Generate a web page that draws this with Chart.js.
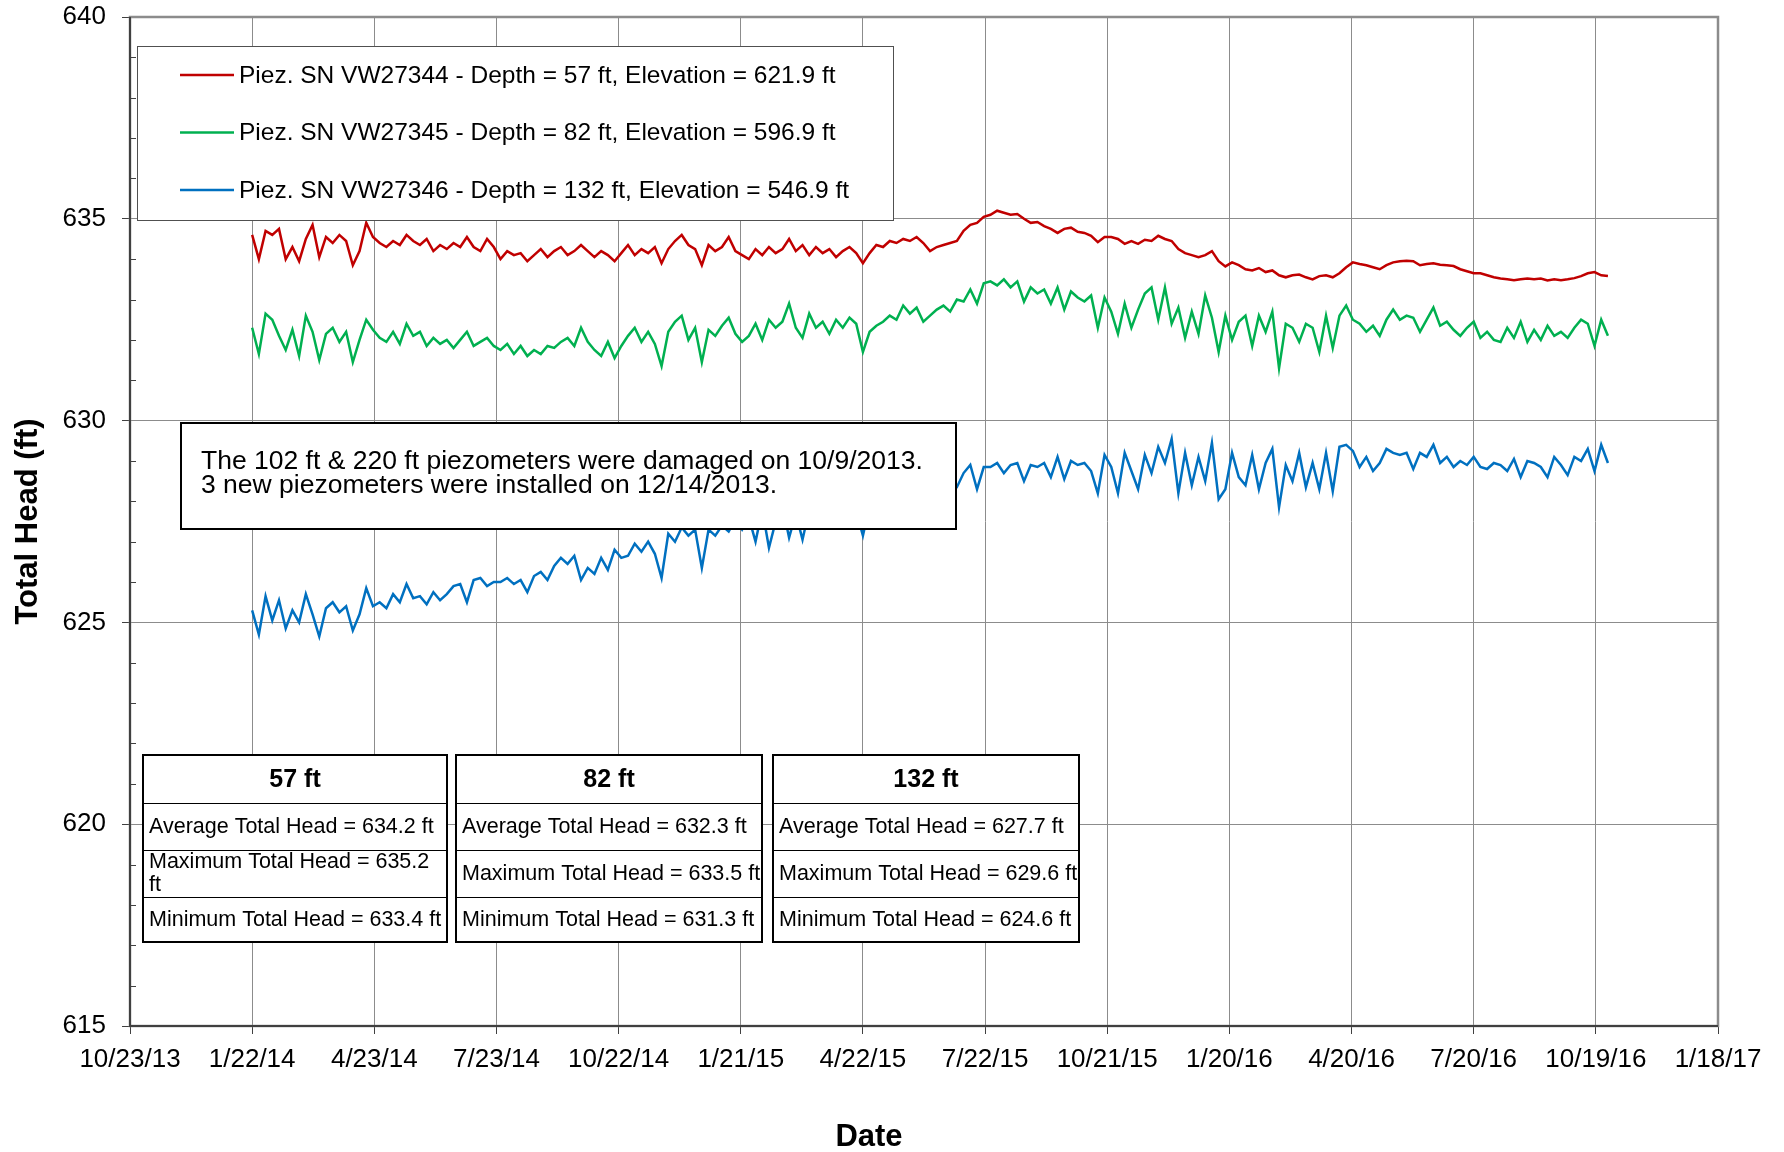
<!DOCTYPE html>
<html>
<head>
<meta charset="utf-8">
<title>Total Head</title>
<script src="https://cdn.jsdelivr.net/npm/chart.js@4/dist/chart.umd.min.js"></script>
<style>
  body { margin: 0; background: #fff; }
  canvas { display: block; }
</style>
</head>
<body>
<canvas id="chart" width="1784" height="1152"></canvas>
<script>
// x is days since 10/23/13, ticks every 91 days
const tickLabels = ["10/23/13", "1/22/14", "4/23/14", "7/23/14", "10/22/14", "1/21/15", "4/22/15",
  "7/22/15", "10/21/15", "1/20/16", "4/20/16", "7/20/16", "10/19/16", "1/18/17"];
const tickStepDays = 91;
const firstDay = 91;   // first reading 1/22/14
const stepDays = 5;    // one reading every 5 days

const head57 = [
  634.6, 634.0, 634.7, 634.6, 634.75, 634.0, 634.3, 633.95, 634.5, 634.85, 634.05, 634.55, 634.4, 634.6, 634.45, 633.85, 634.2, 634.9, 634.55,
  634.4, 634.3, 634.45, 634.35, 634.6, 634.45, 634.35, 634.5, 634.2, 634.35, 634.25, 634.4, 634.3, 634.55, 634.3, 634.2, 634.5, 634.3,
  634.0, 634.2, 634.1, 634.15, 633.95, 634.1, 634.25, 634.05, 634.2, 634.3, 634.1, 634.2, 634.35, 634.2, 634.05, 634.2, 634.1, 633.95, 634.15,
  634.35, 634.1, 634.25, 634.15, 634.3, 633.9, 634.25, 634.45, 634.6, 634.35, 634.25, 633.85, 634.35, 634.2, 634.3, 634.55, 634.2, 634.1,
  634.0, 634.25, 634.1, 634.3, 634.15, 634.25, 634.5, 634.2, 634.35, 634.1, 634.3, 634.15, 634.25, 634.05, 634.2, 634.3, 634.15, 633.9,
  634.15, 634.35, 634.3, 634.45, 634.4, 634.5, 634.45, 634.55, 634.4, 634.2, 634.3, 634.35, 634.4, 634.45, 634.7, 634.85, 634.9, 635.05,
  635.1, 635.2, 635.15, 635.1, 635.12, 635.0, 634.9, 634.92, 634.82, 634.75, 634.65, 634.75, 634.78, 634.68, 634.65, 634.58, 634.42, 634.55,
  634.55, 634.5, 634.38, 634.45, 634.38, 634.48, 634.45, 634.58, 634.5, 634.45, 634.25, 634.15, 634.1, 634.05, 634.1, 634.2, 633.95, 633.82, 633.92,
  633.85, 633.75, 633.72, 633.78, 633.68, 633.72, 633.6, 633.55, 633.6, 633.62, 633.55, 633.5, 633.58, 633.6, 633.55, 633.65, 633.8, 633.92,
  633.88, 633.85, 633.8, 633.75, 633.85, 633.92, 633.95, 633.96, 633.95, 633.85, 633.88, 633.9, 633.86, 633.85, 633.83, 633.75, 633.7, 633.65,
  633.65, 633.6, 633.55, 633.52, 633.5, 633.48, 633.5, 633.52, 633.5, 633.52, 633.47, 633.5, 633.48, 633.5, 633.53, 633.58, 633.65, 633.68, 633.6, 633.58
];

const head82 = [
  632.3, 631.65, 632.65, 632.5, 632.1, 631.75, 632.25, 631.6, 632.6, 632.2, 631.5, 632.15, 632.3, 631.95, 632.2, 631.45, 632.0, 632.5, 632.25,
  632.05, 631.95, 632.2, 631.9, 632.4, 632.1, 632.2, 631.85, 632.05, 631.9, 632.0, 631.8, 632.0, 632.2, 631.85, 631.95, 632.05, 631.85,
  631.75, 631.9, 631.65, 631.85, 631.6, 631.75, 631.65, 631.85, 631.8, 631.95, 632.05, 631.85, 632.3, 631.95, 631.75, 631.6, 631.95, 631.55, 631.85,
  632.1, 632.3, 631.95, 632.2, 631.9, 631.35, 632.2, 632.45, 632.6, 632.0, 632.3, 631.45, 632.25, 632.1, 632.35, 632.55, 632.15, 631.95,
  632.1, 632.4, 632.0, 632.5, 632.3, 632.45, 632.9, 632.3, 632.05, 632.65, 632.3, 632.45, 632.15, 632.5, 632.3, 632.55, 632.4, 631.7,
  632.2, 632.35, 632.45, 632.6, 632.5, 632.85, 632.65, 632.8, 632.45, 632.6, 632.75, 632.85, 632.7, 633.0, 632.95, 633.25, 632.9, 633.4,
  633.45, 633.35, 633.5, 633.3, 633.45, 632.95, 633.3, 633.15, 633.25, 632.9, 633.3, 632.75, 633.2, 633.05, 632.95, 633.1, 632.3, 633.05,
  632.7, 632.15, 632.9, 632.3, 632.75, 633.15, 633.3, 632.5, 633.3, 632.4, 632.8, 632.05, 632.7, 632.15, 633.1, 632.55, 631.7, 632.6, 632.0,
  632.45, 632.6, 631.85, 632.6, 632.2, 632.7, 631.3, 632.4, 632.3, 631.95, 632.4, 632.3, 631.7, 632.6, 631.8, 632.6, 632.85, 632.5,
  632.4, 632.2, 632.35, 632.1, 632.5, 632.75, 632.5, 632.6, 632.55, 632.2, 632.5, 632.8, 632.35, 632.45, 632.25, 632.1, 632.3, 632.45,
  632.05, 632.2, 632.0, 631.95, 632.3, 632.05, 632.45, 631.95, 632.25, 632.0, 632.35, 632.1, 632.2, 632.05, 632.3, 632.5, 632.4, 631.85, 632.5, 632.1
];

const head132 = [
  625.3, 624.7, 625.65, 625.05, 625.55, 624.85, 625.3, 625.0, 625.7, 625.2, 624.65, 625.35, 625.5, 625.25, 625.4, 624.8, 625.2, 625.85, 625.4,
  625.5, 625.35, 625.7, 625.5, 625.95, 625.6, 625.65, 625.45, 625.75, 625.55, 625.7, 625.9, 625.95, 625.5, 626.05, 626.1, 625.9, 626.0,
  626.0, 626.1, 625.95, 626.05, 625.75, 626.15, 626.25, 626.05, 626.4, 626.6, 626.45, 626.65, 626.05, 626.35, 626.2, 626.6, 626.3, 626.8, 626.6,
  626.65, 626.95, 626.75, 627.0, 626.7, 626.1, 627.2, 627.0, 627.35, 627.15, 627.3, 626.35, 627.3, 627.15, 627.4, 627.25, 627.55, 627.3,
  627.6, 627.0, 627.8, 626.85, 627.5, 627.9, 627.1, 627.7, 627.05, 627.8, 627.6, 628.0, 627.7, 627.9, 627.4, 628.0, 627.75, 627.15,
  627.9, 628.1, 627.85, 628.2, 628.0, 628.3, 628.05, 628.35, 628.1, 628.4, 628.2, 628.45, 628.15, 628.35, 628.7, 628.9, 628.3, 628.85,
  628.85, 628.95, 628.7, 628.9, 628.95, 628.5, 628.9, 628.85, 628.95, 628.6, 629.1, 628.55, 629.0, 628.9, 628.95, 628.75, 628.2, 629.15,
  628.85, 628.2, 629.2, 628.75, 628.3, 629.15, 628.7, 629.35, 628.95, 629.55, 628.2, 629.2, 628.4, 629.1, 628.5, 629.45, 628.05, 628.3, 629.2,
  628.6, 628.4, 629.15, 628.3, 628.95, 629.3, 627.85, 628.9, 628.5, 629.2, 628.35, 628.95, 628.3, 629.2, 628.25, 629.35, 629.4, 629.25,
  628.85, 629.1, 628.75, 628.95, 629.3, 629.2, 629.15, 629.2, 628.8, 629.2, 629.1, 629.4, 628.95, 629.1, 628.85, 629.0, 628.9, 629.1,
  628.85, 628.8, 628.95, 628.9, 628.75, 629.05, 628.6, 629.0, 628.95, 628.85, 628.6, 629.1, 628.9, 628.65, 629.1, 629.0, 629.3, 628.75, 629.4, 628.95
];

const seriesNames = [
  "Piez. SN VW27344 - Depth = 57 ft, Elevation = 621.9 ft",
  "Piez. SN VW27345 - Depth = 82 ft, Elevation = 596.9 ft",
  "Piez. SN VW27346 - Depth = 132 ft, Elevation = 546.9 ft"
];
const seriesColors = ["#C00000", "#00B050", "#0070C0"];

const noteLines = [
  "The 102 ft & 220 ft piezometers were damaged on 10/9/2013.",
  "3 new piezometers were installed on 12/14/2013."
];

const tableHeaders = ["57 ft", "82 ft", "132 ft"];
const avgHead = [634.2, 632.3, 627.7];
const maxHead = [635.2, 633.5, 629.6];
const minHead = [633.4, 631.3, 624.6];

const FONT = "'Liberation Sans', Arial, sans-serif";

function toPoints(values) {
  return values.map((v, i) => ({ x: firstDay + i * stepDays, y: v }));
}

// minor ticks, plot frame, legend, note and stat tables
const overlays = {
  id: "overlays",
  afterDatasetsDraw(chart) {
    const ctx = chart.ctx;
    const a = chart.chartArea;
    const ys = chart.scales.y;
    ctx.save();

    // frame
    ctx.strokeStyle = "#8c8c8c";
    ctx.lineWidth = 2.5;
    ctx.strokeRect(a.left, a.top, a.right - a.left, a.bottom - a.top);
    ctx.strokeStyle = "#404040";
    ctx.lineWidth = 2;
    ctx.beginPath();
    ctx.moveTo(a.left, a.top);
    ctx.lineTo(a.left, a.bottom);
    ctx.lineTo(a.right, a.bottom);
    ctx.stroke();

    // minor ticks on y, inside
    ctx.lineWidth = 1;
    ctx.strokeStyle = "#404040";
    for (let v = ys.min + 1; v < ys.max; v++) {
      if (v % 5 === 0) continue;
      const py = Math.round(ys.getPixelForValue(v)) + 0.5;
      ctx.beginPath();
      ctx.moveTo(a.left, py);
      ctx.lineTo(a.left + 6, py);
      ctx.stroke();
    }

    // legend box
    ctx.fillStyle = "#fff";
    ctx.fillRect(137, 46, 756, 174);
    ctx.strokeStyle = "#505050";
    ctx.lineWidth = 1;
    ctx.strokeRect(137.5, 46.5, 756, 174);
    ctx.font = "24.5px " + FONT;
    ctx.textBaseline = "middle";
    ctx.textAlign = "left";
    chart.data.datasets.forEach((ds, k) => {
      const ly = 75 + k * 57.5;
      ctx.strokeStyle = ds.borderColor;
      ctx.lineWidth = 2.5;
      ctx.beginPath();
      ctx.moveTo(180, ly);
      ctx.lineTo(234, ly);
      ctx.stroke();
      ctx.fillStyle = "#000";
      ctx.fillText(ds.label, 239, ly + 1);
    });

    // note box
    ctx.fillStyle = "#fff";
    ctx.fillRect(181, 423, 775, 106);
    ctx.strokeStyle = "#000";
    ctx.lineWidth = 2;
    ctx.strokeRect(181, 423, 775, 106);
    ctx.fillStyle = "#000";
    ctx.font = "26.5px " + FONT;
    noteLines.forEach((t, k) => ctx.fillText(t, 201, 462 + k * 24));

    // stat tables
    const tLeft = [143, 456, 773];
    const tWidth = [304, 306, 306];
    const rowTop = [755, 803, 850, 897, 942];
    const wrapMax = [true, false, false];
    tableHeaders.forEach((h, k) => {
      const x = tLeft[k], w = tWidth[k];
      ctx.fillStyle = "#fff";
      ctx.fillRect(x, rowTop[0], w, rowTop[4] - rowTop[0]);
      ctx.strokeStyle = "#000";
      ctx.lineWidth = 1;
      for (let r = 1; r < 4; r++) {
        ctx.beginPath();
        ctx.moveTo(x, rowTop[r] + 0.5);
        ctx.lineTo(x + w, rowTop[r] + 0.5);
        ctx.stroke();
      }
      ctx.lineWidth = 2;
      ctx.strokeRect(x, rowTop[0], w, rowTop[4] - rowTop[0]);

      ctx.fillStyle = "#000";
      ctx.font = "bold 25px " + FONT;
      ctx.textAlign = "center";
      ctx.fillText(h, x + w / 2, (rowTop[0] + rowTop[1]) / 2 + 1);

      ctx.font = "21.5px " + FONT;
      ctx.textAlign = "left";
      ctx.save();
      ctx.beginPath();
      ctx.rect(x, rowTop[0], w, rowTop[4] - rowTop[0]);
      ctx.clip();
      ctx.fillText("Average Total Head = " + avgHead[k].toFixed(1) + " ft", x + 6, (rowTop[1] + rowTop[2]) / 2 + 1);
      const maxTxt = "Maximum Total Head = " + maxHead[k].toFixed(1);
      const midMax = (rowTop[2] + rowTop[3]) / 2;
      if (wrapMax[k]) {
        ctx.fillText(maxTxt, x + 6, midMax - 11);
        ctx.fillText("ft", x + 6, midMax + 12);
      } else {
        ctx.fillText(maxTxt + " ft", x + 6, midMax + 1);
      }
      ctx.fillText("Minimum Total Head = " + minHead[k].toFixed(1) + " ft", x + 6, (rowTop[3] + rowTop[4]) / 2 + 1);
      ctx.restore();
    });

    // x axis title
    ctx.font = "bold 31px " + FONT;
    ctx.textAlign = "center";
    ctx.fillStyle = "#000";
    ctx.fillText("Date", 869, 1137);

    ctx.restore();
  }
};

const datasets = [head57, head82, head132].map((vals, k) => ({
  label: seriesNames[k],
  data: toPoints(vals),
  borderColor: seriesColors[k],
  backgroundColor: seriesColors[k],
  borderWidth: 2.5,
  pointRadius: 0,
  tension: 0,
  fill: false
}));

new Chart(document.getElementById("chart"), {
  type: "line",
  data: { datasets },
  options: {
    responsive: false,
    animation: false,
    devicePixelRatio: 1,
    layout: { padding: { top: 17, right: 66, left: 0, bottom: 0 } },
    plugins: {
      legend: { display: false },
      tooltip: { enabled: false }
    },
    scales: {
      x: {
        type: "linear",
        min: 0,
        max: tickStepDays * (tickLabels.length - 1),
        afterFit: s => { s.height = 126; s.paddingLeft = 0; s.paddingRight = 0; },
        border: { display: false },
        grid: { color: "#8c8c8c", tickColor: "#404040", tickLength: 8, lineWidth: 1 },
        ticks: {
          stepSize: tickStepDays,
          autoSkip: false,
          maxRotation: 0,
          padding: 10,
          color: "#000",
          font: { family: FONT, size: 26 },
          callback: v => tickLabels[Math.round(v / tickStepDays)]
        }
      },
      y: {
        min: 615,
        max: 640,
        afterFit: s => { s.width = 130; s.paddingTop = 0; s.paddingBottom = 0; },
        border: { display: false },
        grid: { color: "#8c8c8c", tickColor: "#404040", tickLength: 8, lineWidth: 1 },
        ticks: {
          stepSize: 5,
          padding: 16,
          color: "#000",
          font: { family: FONT, size: 26 }
        },
        title: {
          display: true,
          text: "Total Head (ft)",
          color: "#000",
          font: { family: FONT, size: 31, weight: "bold" },
          padding: { top: 10, bottom: 0 }
        }
      }
    }
  },
  plugins: [overlays]
});
</script>
</body>
</html>
